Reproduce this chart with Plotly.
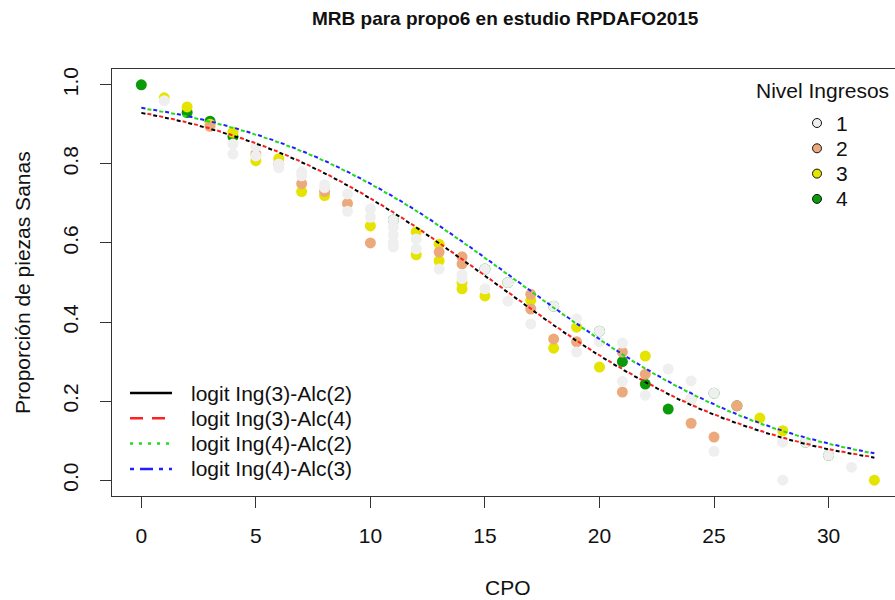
import plotly.graph_objects as go

# ---- data -----------------------------------------------------------------
# Observed proportion of healthy teeth by CPO, per income level
nivel1_x = [1, 4, 4, 5, 5, 6, 6, 7, 7, 8, 8, 9, 9, 10, 10, 11, 11, 11, 11, 11,
            12, 12, 13, 14, 14, 15, 15, 16, 16, 17, 18, 19, 19, 20, 20, 21, 21,
            22, 23, 24, 24, 25, 25, 28, 28, 29, 30, 31]
nivel1_y = [0.96, 0.85, 0.825, 0.843, 0.82, 0.80, 0.79, 0.78, 0.77, 0.747, 0.74,
            0.724, 0.68, 0.686, 0.665, 0.658, 0.64, 0.62, 0.60, 0.59,
            0.61, 0.585, 0.534, 0.52, 0.51, 0.534, 0.484, 0.50, 0.453, 0.395,
            0.44, 0.408, 0.324, 0.377, 0.35, 0.347, 0.25, 0.215, 0.281, 0.251,
            0.205, 0.22, 0.073, 0.096, 0.0, 0.096, 0.063, 0.033]

nivel2_x = [3, 5, 6, 7, 8, 9, 10, 13, 14, 14, 17, 17, 18, 19, 21, 21, 22, 24, 24,
            25, 26]
nivel2_y = [0.895, 0.825, 0.80, 0.75, 0.73, 0.70, 0.60, 0.577, 0.565, 0.547,
            0.47, 0.433, 0.357, 0.35, 0.324, 0.223, 0.268, 0.205, 0.144, 0.109,
            0.188]

nivel3_x = [1, 2, 3, 4, 5, 6, 7, 8, 10, 12, 12, 13, 13, 14, 14, 15, 17, 18, 19,
            20, 22, 27, 28, 32]
nivel3_y = [0.967, 0.944, 0.90, 0.88, 0.808, 0.813, 0.73, 0.72, 0.643, 0.628,
            0.57, 0.597, 0.555, 0.50, 0.484, 0.466, 0.455, 0.334, 0.387, 0.286,
            0.314, 0.157, 0.125, 0.0]

nivel4_x = [0, 2, 3, 4, 11, 15, 16, 18, 20, 21, 22, 23, 25, 26, 29, 30]
nivel4_y = [1.0, 0.93, 0.908, 0.869, 0.658, 0.534, 0.50, 0.44, 0.377, 0.30,
            0.243, 0.18, 0.22, 0.188, 0.096, 0.063]

# Fitted logit curves (predicted proportion vs CPO)
curva_x = [0, 2, 4, 6, 8, 10, 12, 14, 16, 18, 20, 22, 24, 26, 28, 30, 32]
ing3_alc2 = [0.929, 0.904, 0.871, 0.829, 0.776, 0.712, 0.639, 0.558, 0.475,
             0.392, 0.315, 0.248, 0.190, 0.144, 0.107, 0.078, 0.057]
ing3_alc4 = [0.930, 0.905, 0.872, 0.830, 0.777, 0.713, 0.640, 0.559, 0.476,
             0.393, 0.316, 0.249, 0.191, 0.145, 0.108, 0.079, 0.058]
ing4_alc2 = [0.941, 0.920, 0.891, 0.854, 0.807, 0.749, 0.681, 0.603, 0.520,
             0.436, 0.356, 0.282, 0.219, 0.166, 0.124, 0.092, 0.067]
ing4_alc3 = [0.942, 0.921, 0.892, 0.855, 0.808, 0.750, 0.682, 0.604, 0.521,
             0.437, 0.357, 0.283, 0.220, 0.167, 0.125, 0.093, 0.068]

x_ticks = [0, 5, 10, 15, 20, 25, 30]
y_ticks = [0.0, 0.2, 0.4, 0.6, 0.8, 1.0]
y_ticktext = ["0.0", "0.2", "0.4", "0.6", "0.8", "1.0"]

niveles = ["1", "2", "3", "4"]
colores_nivel = ["#EFEFEF", "#ECAA7C", "#E4E400", "#0A9A0A"]
curvas = ["logit Ing(3)-Alc(2)", "logit Ing(3)-Alc(4)",
          "logit Ing(4)-Alc(2)", "logit Ing(4)-Alc(3)"]
colores_curva = ["black", "#FF2020", "#20DD20", "#2020FF"]

# ---- page geometry ----------------------------------------------------------
W, H = 895, 600
L, T, B = 112, 69, 104
PW = W - L
PH = H - T - B
FONT = "Liberation Sans, Arial, Helvetica, sans-serif"
TXT = 21


def fx(xp):
    return (xp - L) / PW


def fy(yp):
    return (H - B - yp) / PH


fig = go.Figure()

# points: level 4 underneath, level 1 on top
puntos = [(nivel4_x, nivel4_y, colores_nivel[3]),
          (nivel3_x, nivel3_y, colores_nivel[2]),
          (nivel2_x, nivel2_y, colores_nivel[1]),
          (nivel1_x, nivel1_y, colores_nivel[0])]
for xs, ys, col in puntos:
    fig.add_trace(go.Scatter(
        x=xs, y=ys, mode="markers",
        marker=dict(size=11, color=col, line=dict(width=0)),
        showlegend=False, hoverinfo="skip"))

# fitted curves; paired curves use interleaved dash patterns
estilos = [dict(dash="4px,8px", width=2),
           dict(dash="0px,6px,4px,2px", width=2),
           dict(dash="0px,6px,4px,2px", width=2),
           dict(dash="4px,8px", width=2)]
for ys, col, est in zip([ing3_alc2, ing3_alc4, ing4_alc2, ing4_alc3],
                        colores_curva, estilos):
    fig.add_trace(go.Scatter(
        x=curva_x, y=ys, mode="lines",
        line=dict(color=col, shape="spline", **est),
        showlegend=False, hoverinfo="skip"))

shapes = []
annotations = []

# curve key, lower left
key_dash = ["solid", "13px,9px", "3px,6px", "4px,6px,13px,6px"]
for i, (nombre, col, d) in enumerate(zip(curvas, colores_curva, key_dash)):
    yy = 393 + i * 25.3
    shapes.append(dict(type="line", xref="paper", yref="paper",
                       x0=fx(130), x1=fx(172), y0=fy(yy), y1=fy(yy),
                       line=dict(color=col, width=2.5, dash=d)))
    annotations.append(dict(text=nombre, xref="paper", yref="paper",
                            x=fx(189), y=fy(yy), xanchor="left",
                            yanchor="middle", showarrow=False,
                            font=dict(size=TXT, color="#111", family=FONT)))

# income-level key, upper right
annotations.append(dict(text="Nivel Ingresos", xref="paper", yref="paper",
                        x=fx(754), y=fy(90), xanchor="left", yanchor="middle",
                        showarrow=False,
                        font=dict(size=TXT, color="#111", family=FONT)))
for i, (niv, col) in enumerate(zip(niveles, colores_nivel)):
    yy = 123 + i * 25.3
    shapes.append(dict(type="circle", xref="paper", yref="paper",
                       xsizemode="pixel", ysizemode="pixel",
                       xanchor=fx(817), yanchor=fy(yy),
                       x0=-4.5, x1=4.5, y0=-4.5, y1=4.5,
                       fillcolor=col, line=dict(color="#111", width=1)))
    annotations.append(dict(text=niv, xref="paper", yref="paper",
                            x=fx(834), y=fy(yy), xanchor="left",
                            yanchor="middle", showarrow=False,
                            font=dict(size=TXT, color="#111", family=FONT)))

# title and axis titles
annotations.append(dict(text="<b>MRB para propo6 en estudio RPDAFO2015</b>",
                        xref="paper", yref="paper", x=fx(506), y=fy(18),
                        xanchor="center", yanchor="middle", showarrow=False,
                        font=dict(size=19, color="#111", family=FONT)))
annotations.append(dict(text="CPO", xref="paper", yref="paper",
                        x=fx(508), y=fy(587), xanchor="center",
                        yanchor="middle", showarrow=False,
                        font=dict(size=TXT, color="#111", family=FONT)))
annotations.append(dict(text="Proporción de piezas Sanas", xref="paper",
                        yref="paper", x=fx(22), y=fy(283), xanchor="center",
                        yanchor="middle", textangle=-90, showarrow=False,
                        font=dict(size=TXT, color="#111", family=FONT)))

fig.update_layout(
    width=W, height=H,
    margin=dict(l=L, r=0, t=T, b=B),
    paper_bgcolor="white", plot_bgcolor="white",
    shapes=shapes, annotations=annotations,
    showlegend=False,
    font=dict(family=FONT, color="#111"),
    xaxis=dict(range=[-1.28, 32.9], tickvals=x_ticks, ticks="outside",
               ticklen=11, tickcolor="#333", tickwidth=1,
               showline=True, linecolor="#333", linewidth=1, mirror=True,
               showgrid=False, zeroline=False,
               tickfont=dict(size=TXT, color="#111"), ticklabelstandoff=10),
    yaxis=dict(range=[-0.04, 1.04], tickvals=y_ticks, ticktext=y_ticktext,
               tickangle=-90, ticks="outside", ticklen=11, tickcolor="#333",
               tickwidth=1, showline=True, linecolor="#333", linewidth=1,
               mirror=False, showgrid=False, zeroline=False,
               tickfont=dict(size=TXT, color="#111"), ticklabelstandoff=14),
)

fig.write_html("out.html")
